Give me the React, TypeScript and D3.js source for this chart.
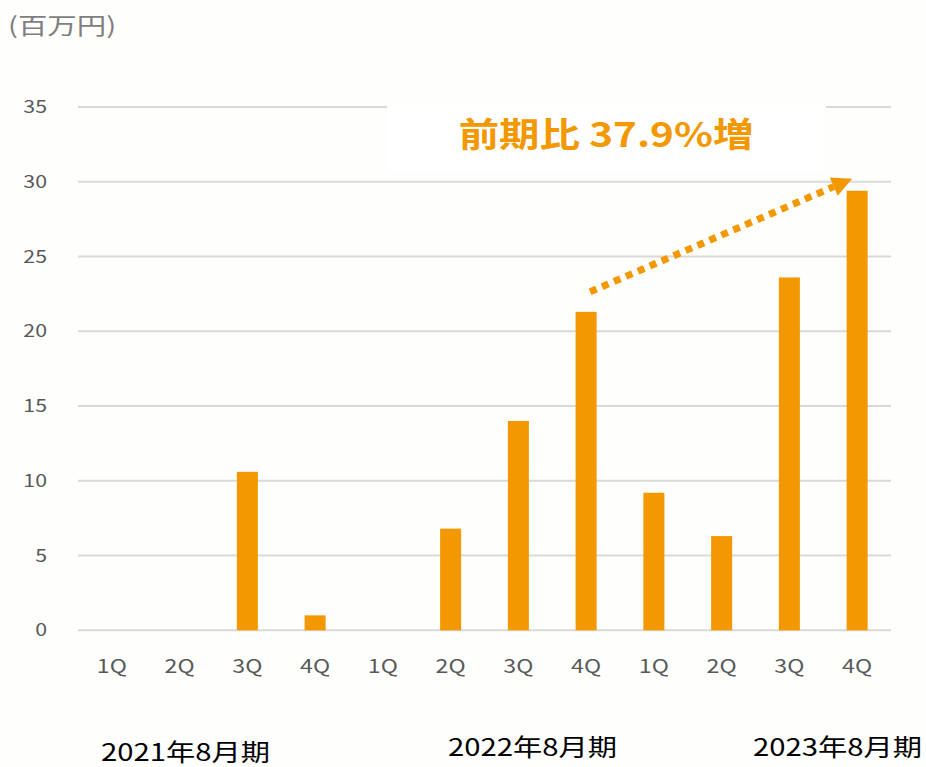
import React from 'react';
import * as d3 from 'd3';

const quarters = ['1Q', '2Q', '3Q', '4Q', '1Q', '2Q', '3Q', '4Q', '1Q', '2Q', '3Q', '4Q'];
const sales = [0, 0, 10.6, 1.0, 0, 6.8, 14.0, 21.3, 9.2, 6.3, 23.6, 29.4];
const yTicks = [0, 5, 10, 15, 20, 25, 30, 35];
const periods = ['2021年8月期', '2022年8月期', '2023年8月期'];
const unitLabel = '(百万円)';
const note = '前期比 37.9%増';

const W = 926,
	H = 767;
const ORANGE = '#F39800';
const FONT = '"Noto Sans CJK JP", "Noto Sans", sans-serif';
const SX = 1.22; // the original text is a bit wider than the font

type STextProps = {
	x: number;
	y: number;
	anchor?: 'start' | 'middle' | 'end';
	size: number;
	fill: string;
	weight?: string;
	sx?: number;
	children: React.ReactNode;
};

const SText = ({ x, y, anchor = 'start', size, fill, weight, sx = SX, children }: STextProps) => (
	<text
		transform={`translate(${x},${y}) scale(${sx},1)`}
		textAnchor={anchor}
		fontSize={size}
		fontWeight={weight}
		fill={fill}
	>
		{children}
	</text>
);

const App = () => {
	const x = d3
		.scaleBand<number>()
		.domain(d3.range(sales.length))
		.range([78, 891])
		.paddingInner(0.69)
		.paddingOuter(0.345);
	const step = x.step();
	const bandCenter = (i: number) => 78 + step * (i + 0.5);
	const y = d3.scaleLinear().domain([0, 35]).range([630.3, 107]);

	// arrow from 4Q of FY2022 to 4Q of FY2023
	const x0 = bandCenter(7) + 4,
		y0 = y(sales[7]) - 20;
	const tipX = bandCenter(11) - 5,
		tipY = y(sales[11]) - 12;
	const ang = Math.atan2(tipY - y0, tipX - x0);
	const headLen = 20,
		headHalf = 10;
	const baseX = tipX - headLen * Math.cos(ang),
		baseY = tipY - headLen * Math.sin(ang);
	const px = -Math.sin(ang),
		py = Math.cos(ang);
	const head = [
		[tipX, tipY],
		[baseX + px * headHalf, baseY + py * headHalf],
		[baseX - px * headHalf, baseY - py * headHalf],
	];

	const periodPos = [
		{ x: 101, y: 761 },
		{ x: 448, y: 756 },
		{ x: 753, y: 756 },
	];

	return (
		<svg
			width={W}
			height={H}
			style={{ position: 'absolute', left: 0, top: 0, display: 'block' }}
			fontFamily={FONT}
		>
			<rect width={W} height={H} fill="#fefefd" />
			<SText x={8} y={34} size={23} fill="#7f7f7f" sx={1.28}>
				{unitLabel}
			</SText>
			{yTicks.map((t) => (
				<g key={t}>
					<line x1={78} x2={891} y1={y(t)} y2={y(t)} stroke="#d9d9d9" strokeWidth={2} />
					<SText x={47} y={y(t) + 6} anchor="end" size={17.5} fill="#595959">
						{t}
					</SText>
				</g>
			))}
			{sales.map((v, i) =>
				v > 0 ? (
					<rect
						key={i}
						x={x(i)}
						width={x.bandwidth()}
						y={y(v)}
						height={y(0) - y(v)}
						fill={ORANGE}
					/>
				) : null
			)}
			{quarters.map((q, i) => (
				<SText key={i} x={bandCenter(i)} y={673} anchor="middle" size={19} fill="#595959">
					{q}
				</SText>
			))}
			{periods.map((p, i) => (
				<SText key={p} x={periodPos[i].x} y={periodPos[i].y} size={24} fill="#000">
					{p}
				</SText>
			))}
			<rect x={387} y={104} width={439} height={68} fill="#ffffff" />
			<SText x={606} y={147} anchor="middle" size={34} weight="bold" fill={ORANGE} sx={1.19}>
				{note}
			</SText>
			<line
				x1={x0}
				y1={y0}
				x2={baseX}
				y2={baseY}
				stroke={ORANGE}
				strokeWidth={7}
				strokeDasharray="7 6"
			/>
			<polygon points={head.map((p) => p.join(',')).join(' ')} fill={ORANGE} />
		</svg>
	);
};

export default App;
